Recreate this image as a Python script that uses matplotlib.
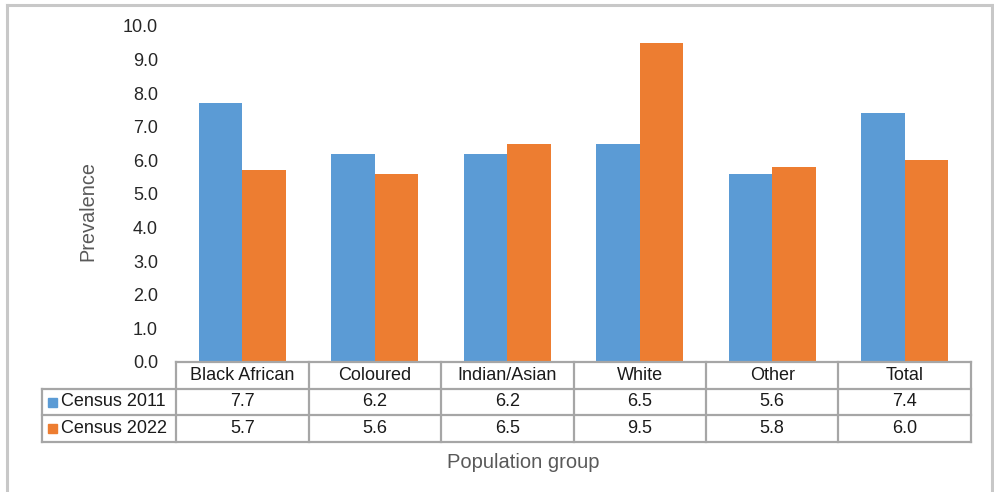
import matplotlib
matplotlib.use("Agg")
import matplotlib.pyplot as plt
from matplotlib.lines import Line2D
from matplotlib.patches import Rectangle

plt.rcParams['font.family'] = ['Liberation Sans', 'DejaVu Sans']

groups = ["Black African", "Coloured", "Indian/Asian", "White", "Other", "Total"]
series_names = ["Census 2011", "Census 2022"]
census_2011 = [7.7, 6.2, 6.2, 6.5, 5.6, 7.4]
census_2022 = [5.7, 5.6, 6.5, 9.5, 5.8, 6.0]
y_ticks = [0.0, 1.0, 2.0, 3.0, 4.0, 5.0, 6.0, 7.0, 8.0, 9.0, 10.0]

colors = ["#5b9bd5", "#ed7d31"]
grid_col = "#a6a6a6"
text_col = "#1a1a1a"
W, H = 995, 492

fig = plt.figure(figsize=(W / 100, H / 100), dpi=100)
fig.patch.set_facecolor("white")

# axes placed in pixel terms
ax_l, ax_r, ax_top, ax_bot = 176, 971, 26, 362
ax = fig.add_axes([ax_l / W, (H - ax_bot) / H, (ax_r - ax_l) / W, (ax_bot - ax_top) / H])
aw = ax_r - ax_l
ah = ax_bot - ax_top

n = len(groups)
x = list(range(n))
bw = 0.33
ax.bar([i - bw / 2 for i in x], census_2011, width=bw, color=colors[0], zorder=2)
ax.bar([i + bw / 2 for i in x], census_2022, width=bw, color=colors[1], zorder=2)

ax.set_xlim(-0.5, n - 0.5)
ax.set_ylim(0, 10)
ax.set_yticks(y_ticks)
ax.set_yticklabels([f"{v:.1f}" for v in y_ticks], fontsize=13, color="#262626")
ax.tick_params(axis="y", length=0, pad=13)
ax.set_xticks([])
for s in ax.spines.values():
    s.set_visible(False)


def yf(py):
    return (ax_bot - py) / ah


def xf(px):
    return (px - ax_l) / aw


ax.text(xf(88), yf(211), "Prevalence", transform=ax.transAxes, rotation=90,
        ha="center", va="center", fontsize=14.3, color="#595959")

# data table under the plot
row_edges = [yf(362), yf(389), yf(415), yf(442)]
legend_left = xf(42)
lkw = dict(color=grid_col, lw=1.6, transform=ax.transAxes, clip_on=False, solid_capstyle="projecting")

# horizontal rules
ax.add_line(Line2D([0, 1], [row_edges[0], row_edges[0]], **lkw))
for ye in row_edges[1:]:
    ax.add_line(Line2D([legend_left, 1], [ye, ye], **lkw))
# vertical rules
ax.add_line(Line2D([legend_left, legend_left], [row_edges[1], row_edges[3]], **lkw))
for k in range(n + 1):
    xk = k / n
    ax.add_line(Line2D([xk, xk], [row_edges[0], row_edges[3]], **lkw))

# header cells
for i, g in enumerate(groups):
    ax.text((i + 0.5) / n, (row_edges[0] + row_edges[1]) / 2, g, transform=ax.transAxes,
            ha="center", va="center", fontsize=13, color=text_col)

# value rows with legend keys
for r, (name, vals) in enumerate(zip(series_names, [census_2011, census_2022])):
    yc = (row_edges[r + 1] + row_edges[r + 2]) / 2
    key_w = 9 / aw
    key_h = 9 / ah
    ax.add_patch(Rectangle((xf(48), yc - key_h / 2), key_w, key_h,
                           transform=ax.transAxes, color=colors[r], clip_on=False))
    ax.text(xf(61), yc, name, transform=ax.transAxes,
            ha="left", va="center", fontsize=13, color=text_col)
    for i, v in enumerate(vals):
        ax.text((i + 0.5) / n, yc, f"{v:.1f}", transform=ax.transAxes,
                ha="center", va="center", fontsize=13, color=text_col)

ax.text(xf(523), yf(462), "Population group", transform=ax.transAxes,
        ha="center", va="center", fontsize=14.5, color="#595959")

# outer chart frame (open at the bottom)
fkw = dict(color="#c8c8c8", lw=2.2, transform=fig.transFigure)
fig.add_artist(Line2D([7 / W, 7 / W], [0, 1 - 5 / H], **fkw))
fig.add_artist(Line2D([7 / W, 992 / W], [1 - 5 / H, 1 - 5 / H], **fkw))
fig.add_artist(Line2D([992 / W, 992 / W], [0, 1 - 5 / H], **fkw))

fig.savefig("out.png", dpi=100)
